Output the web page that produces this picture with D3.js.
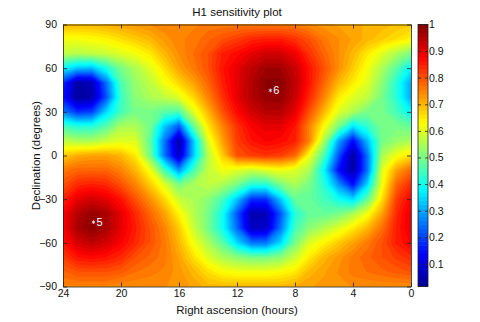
<!DOCTYPE html>
<html>
<head>
<meta charset="utf-8">
<script src="https://cdn.jsdelivr.net/npm/d3@7"></script>
<style>
body { margin: 0; background: #fff; }
text { font-family: "Liberation Sans", Arial, Helvetica, sans-serif; }
</style>
</head>
<body>
<div id="chart"></div>
<script>
// grid columns (right ascension, hours) and rows (declination, degrees)
var raHours = [24,23,22,21,20,19,18,17,16,15,14,13,12,11,10,9,8,7,6,5,4,3,2,1,0];
var decDegrees = [90,80,70,60,50,40,30,20,10,0,-10,-20,-30,-40,-50,-60,-70,-80,-90];

// sensitivity, one row per declination, RA 24 -> 0
var sensitivity = [
  [0.70,0.70,0.70,0.71,0.72,0.73,0.74,0.75,0.75, 0.75,0.76,0.76,0.76,0.76,0.76,0.76,0.76, 0.74,0.73,0.72,0.72,0.70,0.70,0.69,0.68], // 90
  [0.62,0.62,0.63,0.64,0.66,0.68,0.70,0.73,0.75, 0.76,0.78,0.80,0.82,0.84,0.85,0.85,0.83, 0.80,0.76,0.74,0.72,0.70,0.68,0.66,0.64], // 80
  [0.57,0.56,0.57,0.58,0.60,0.62,0.65,0.70,0.74, 0.77,0.80,0.85,0.87,0.90,0.92,0.92,0.89, 0.83,0.78,0.74,0.70,0.65,0.60,0.55,0.50], // 70
  [0.38,0.33,0.32,0.41,0.50,0.55,0.60,0.66,0.72, 0.76,0.80,0.86,0.90,0.94,0.97,0.97,0.93, 0.86,0.80,0.74,0.68,0.62,0.55,0.47,0.38], // 60
  [0.18,0.04,0.06,0.25,0.46,0.53,0.57,0.62,0.67, 0.72,0.78,0.85,0.90,0.95,0.99,0.99,0.94, 0.86,0.78,0.70,0.65,0.60,0.52,0.42,0.30], // 50
  [0.15,0.03,0.05,0.22,0.44,0.52,0.55,0.57,0.60, 0.67,0.75,0.83,0.90,0.95,0.98,0.98,0.93, 0.84,0.75,0.65,0.60,0.57,0.50,0.42,0.30], // 40
  [0.26,0.18,0.20,0.35,0.45,0.50,0.50,0.47,0.46, 0.60,0.70,0.80,0.87,0.92,0.95,0.95,0.90, 0.80,0.70,0.60,0.55,0.50,0.50,0.45,0.38], // 30
  [0.45,0.42,0.42,0.47,0.55,0.55,0.50,0.33,0.22, 0.48,0.65,0.75,0.83,0.88,0.90,0.90,0.86, 0.75,0.63,0.50,0.36,0.43,0.50,0.50,0.48], // 20
  [0.57,0.55,0.55,0.58,0.60,0.60,0.48,0.25,0.04, 0.33,0.60,0.72,0.82,0.86,0.88,0.87,0.85, 0.75,0.55,0.30,0.14,0.32,0.50,0.53,0.55], // 10
  [0.68,0.71,0.72,0.72,0.70,0.65,0.50,0.25,0.07, 0.33,0.56,0.68,0.80,0.82,0.83,0.82,0.78, 0.62,0.46,0.22,0.03,0.25,0.55,0.62,0.66], // 0
  [0.76,0.78,0.78,0.78,0.75,0.70,0.62,0.45,0.28, 0.45,0.57,0.62,0.60,0.58,0.60,0.62,0.60, 0.55,0.38,0.15,0.04,0.25,0.60,0.72,0.78], // -10
  [0.80,0.84,0.85,0.84,0.80,0.75,0.68,0.60,0.50, 0.55,0.57,0.55,0.50,0.42,0.42,0.50,0.55, 0.50,0.42,0.28,0.15,0.35,0.62,0.78,0.84], // -20
  [0.84,0.90,0.92,0.90,0.86,0.80,0.74,0.67,0.58, 0.55,0.52,0.45,0.33,0.18,0.18,0.33,0.48, 0.48,0.45,0.40,0.35,0.48,0.66,0.82,0.88], // -30
  [0.88,0.95,0.98,0.96,0.90,0.84,0.78,0.72,0.64, 0.56,0.50,0.40,0.22,0.05,0.06,0.22,0.42, 0.48,0.48,0.50,0.55,0.62,0.72,0.84,0.90], // -40
  [0.88,0.96,0.99,0.96,0.90,0.85,0.80,0.75,0.68, 0.58,0.50,0.40,0.24,0.07,0.08,0.25,0.45, 0.52,0.56,0.60,0.65,0.70,0.77,0.85,0.90], // -50
  [0.86,0.92,0.94,0.92,0.88,0.84,0.80,0.76,0.70, 0.62,0.55,0.47,0.35,0.25,0.25,0.35,0.50, 0.60,0.64,0.68,0.72,0.76,0.80,0.85,0.88], // -60
  [0.82,0.86,0.87,0.86,0.84,0.80,0.78,0.76,0.72, 0.66,0.60,0.55,0.52,0.50,0.50,0.52,0.58, 0.65,0.70,0.73,0.76,0.78,0.80,0.82,0.84], // -70
  [0.78,0.80,0.80,0.80,0.79,0.77,0.76,0.75,0.73, 0.70,0.66,0.63,0.62,0.62,0.62,0.63,0.65, 0.70,0.72,0.74,0.76,0.77,0.78,0.79,0.80], // -80
  [0.75,0.75,0.75,0.75,0.74,0.74,0.74,0.74,0.73, 0.72,0.70,0.70,0.70,0.70,0.70,0.70,0.71, 0.72,0.73,0.73,0.74,0.74,0.74,0.74,0.74]  // -90
];

var raTicks = [24,20,16,12,8,4,0];
var decTicks = [-90,-60,-30,0,30,60,90];
var barTicks = [0.1,0.2,0.3,0.4,0.5,0.6,0.7,0.8,0.9,1];
var sources = [
  {name: "6", ra: 9.7, dec: 44.7},
  {name: "5", ra: 21.9, dec: -45.8}
];
var colorMin = 0.015, colorMax = 1;

function drawChart(){
    var width = 480, height = 322;
    var plotLeft = 63, plotRight = 411, plotTop = 24.5, plotBottom = 286.5;
    var fontFam = '"Liberation Sans", Arial, Helvetica, sans-serif';

    var svg = d3.select("#chart").append("svg")
        .attr("width", width)
        .attr("height", height);

    var x = d3.scaleLinear().domain([24, 0]).range([plotLeft, plotRight]);
    var y = d3.scaleLinear().domain([-90, 90]).range([plotBottom, plotTop]);

    // contour grid coords -> pixels (grid value i sits at i + 0.5)
    var gx = d3.scaleLinear().domain([0.5, raHours.length - 0.5]).range([x(raHours[0]), x(raHours[raHours.length-1])]);
    var gy = d3.scaleLinear().domain([0.5, decDegrees.length - 0.5]).range([y(decDegrees[0]), y(decDegrees[decDegrees.length-1])]);

    // jet colormap, 64 steps like matlab
    var t = [0, 0.125, 0.375, 0.625, 0.875, 1];
    var jet = d3.scaleLinear()
        .domain(t.map(function(v){ return colorMin + v * (colorMax - colorMin); }))
        .range(["#00008f", "#0000ff", "#00ffff", "#ffff00", "#ff0000", "#800000"]);
    var nLevels = 64;
    var step = (colorMax - colorMin) / nLevels;
    var levels = d3.range(nLevels).map(function(i){ return colorMin + i * step; });

    var flat = [];
    sensitivity.forEach(function(row){ row.forEach(function(v){ flat.push(v); }); });

    var contours = d3.contours()
        .size([raHours.length, decDegrees.length])
        .thresholds(levels)(flat);

    var path = d3.geoPath(d3.geoTransform({
        point: function(px, py){ this.stream.point(gx(px), gy(py)); }
    }));

    svg.append("clipPath").attr("id", "plotclip")
        .append("rect")
        .attr("x", plotLeft).attr("y", plotTop)
        .attr("width", plotRight - plotLeft).attr("height", plotBottom - plotTop);

    svg.append("g").attr("clip-path", "url(#plotclip)")
        .selectAll("path")
        .data(contours).join("path")
        .attr("d", path)
        .attr("fill", function(d){ return jet(d.value + step / 2); })
        .attr("stroke", "none");

    // source markers
    var srcG = svg.append("g");
    srcG.selectAll("path")
        .data(sources).join("path")
        .attr("d", d3.symbol(d3.symbolAsterisk, 10))
        .attr("transform", function(d){ return "translate(" + x(d.ra) + "," + y(d.dec) + ")"; })
        .attr("fill", "none")
        .attr("stroke", "#e8e8e8")
        .attr("stroke-width", 0.8);
    srcG.selectAll("text")
        .data(sources).join("text")
        .attr("x", function(d){ return x(d.ra) + 3; })
        .attr("y", function(d){ return y(d.dec); })
        .attr("dy", "0.36em")
        .attr("fill", "#fff")
        .style("font-size", "11px")
        .text(function(d){ return d.name; });

    // axes, matlab style ticks pointing in
    function styleAxis(g){
        g.attr("font-family", fontFam).attr("font-size", 10.5);
        g.selectAll("path,line").attr("stroke", "#222").attr("stroke-width", 0.8);
        g.selectAll("text").attr("fill", "#111");
    }
    svg.append("g")
        .attr("transform", "translate(0," + plotBottom + ")")
        .call(d3.axisBottom(x).tickValues(raTicks).tickSizeInner(-4).tickSizeOuter(0).tickPadding(3))
        .call(styleAxis);
    svg.append("g")
        .attr("transform", "translate(0," + plotTop + ")")
        .call(d3.axisTop(x).tickValues(raTicks).tickSizeInner(-4).tickSizeOuter(0).tickFormat(""))
        .call(styleAxis);
    svg.append("g")
        .attr("transform", "translate(" + plotLeft + ",0)")
        .call(d3.axisLeft(y).tickValues(decTicks).tickSizeInner(-4).tickSizeOuter(0).tickPadding(6))
        .call(styleAxis);
    svg.append("g")
        .attr("transform", "translate(" + plotRight + ",0)")
        .call(d3.axisRight(y).tickValues(decTicks).tickSizeInner(-4).tickSizeOuter(0).tickFormat(""))
        .call(styleAxis);

    // colorbar
    var barLeft = 418, barRight = 428;
    var cb = d3.scaleLinear().domain([colorMin, colorMax]).range([plotBottom, plotTop]);
    svg.append("g").selectAll("rect")
        .data(levels).join("rect")
        .attr("x", barLeft)
        .attr("width", barRight - barLeft)
        .attr("y", function(d){ return cb(d + step) - 0.3; })
        .attr("height", function(d){ return cb(d) - cb(d + step) + 0.6; })
        .attr("fill", function(d){ return jet(d + step / 2); });
    svg.append("rect")
        .attr("x", barLeft).attr("y", plotTop)
        .attr("width", barRight - barLeft).attr("height", plotBottom - plotTop)
        .attr("fill", "none").attr("stroke", "#222").attr("stroke-width", 0.8);
    svg.append("g")
        .attr("transform", "translate(" + barRight + ",0)")
        .call(d3.axisRight(cb).tickValues(barTicks).tickSizeInner(-3).tickSizeOuter(0).tickPadding(1)
            .tickFormat(function(d){ return d === 1 ? "1" : d3.format(".1f")(d); }))
        .call(styleAxis)
        .call(function(g){ g.select(".domain").remove(); });
    svg.append("g")
        .attr("transform", "translate(" + barLeft + ",0)")
        .call(d3.axisLeft(cb).tickValues(barTicks).tickSizeInner(-3).tickSizeOuter(0).tickFormat(""))
        .call(styleAxis)
        .call(function(g){ g.select(".domain").remove(); });

    // titles
    svg.append("text")
        .attr("x", (plotLeft + plotRight) / 2).attr("y", 16)
        .attr("text-anchor", "middle")
        .style("font-size", "11.5px").attr("fill", "#111")
        .text("H1 sensitivity plot");
    svg.append("text")
        .attr("x", (plotLeft + plotRight) / 2).attr("y", 314)
        .attr("text-anchor", "middle")
        .style("font-size", "11.5px").attr("fill", "#111")
        .text("Right ascension (hours)");
    svg.append("text")
        .attr("transform", "translate(40," + ((plotTop + plotBottom) / 2) + ") rotate(-90)")
        .attr("text-anchor", "middle")
        .style("font-size", "11.5px").attr("fill", "#111")
        .text("Declination (degrees)");
}
drawChart();
</script>
</body>
</html>
